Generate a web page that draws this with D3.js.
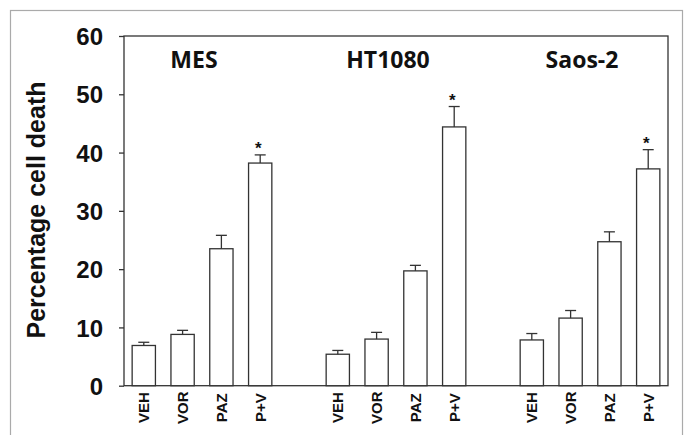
<!DOCTYPE html>
<html>
<head>
<meta charset="utf-8">
<script src="https://cdn.jsdelivr.net/npm/d3@7"></script>
<style>
  body { margin: 0; background: #fff; }
  svg { display: block; }
</style>
</head>
<body>
<div id="canvas"></div>
<script>
// data
const groups = ["MES", "HT1080", "Saos-2"];
const treatments = ["VEH", "VOR", "PAZ", "P+V"];
const mesValues = [6.9, 8.8, 23.5, 38.2];
const mesErrors = [0.55, 0.7, 2.3, 1.4];
const htValues = [5.4, 8.0, 19.7, 44.4];
const htErrors = [0.65, 1.15, 0.95, 3.5];
const saosValues = [7.85, 11.6, 24.7, 37.2];
const saosErrors = [1.1, 1.3, 1.7, 3.3];
const starred = ["P+V"];
const yTicks = [0, 10, 20, 30, 40, 50, 60];

const values = [mesValues, htValues, saosValues];
const errors = [mesErrors, htErrors, saosErrors];

const dims = { width: 686, height: 435 };
const margin = { top: 36, right: 18, bottom: 49.3, left: 124 };
const plotW = dims.width - margin.left - margin.right;
const plotH = dims.height - margin.top - margin.bottom;

const ink = "#333";

// one row per bar
const rows = [];
groups.forEach((g, gi) => {
  treatments.forEach((t, ti) => {
    rows.push({ group: g, treatment: t, key: g + "|" + t, value: values[gi][ti], err: errors[gi][ti] });
  });
});

// band slots, with an empty slot between groups
const slots = [];
groups.forEach((g, gi) => {
  treatments.forEach(t => slots.push(g + "|" + t));
  if (gi < groups.length - 1) slots.push("gap" + gi);
});

const svg = d3
  .select("#canvas")
  .append("svg")
  .attr("width", dims.width)
  .attr("height", dims.height)
  .style("background-color", "#fff");

// outer frame of the figure
svg
  .append("rect")
  .attr("x", 10.5)
  .attr("y", 10.5)
  .attr("width", 672)
  .attr("height", 440)
  .attr("fill", "none")
  .attr("stroke", "#aaa")
  .attr("stroke-width", 1.2);

const graph = svg
  .append("g")
  .attr("transform", `translate(${margin.left}, ${margin.top})`);

const xScale = d3
  .scaleBand()
  .domain(slots)
  .range([0, plotW])
  .paddingInner(0.4)
  .paddingOuter(0.21);

const yScale = d3.scaleLinear().domain([0, 60]).range([plotH, 0]);

// plot box (left axis, top and right borders, baseline)
graph
  .append("rect")
  .attr("width", plotW)
  .attr("height", plotH)
  .attr("fill", "none")
  .attr("stroke", ink)
  .attr("stroke-width", 1.3);

const yAxis = d3
  .axisLeft(yScale)
  .tickValues(yTicks)
  .tickSizeInner(5)
  .tickSizeOuter(0)
  .tickPadding(16)
  .tickFormat(d3.format("d"));

const yAxisGroup = graph.append("g").call(yAxis);
yAxisGroup.select(".domain").remove();
yAxisGroup.selectAll("line").attr("stroke", ink).attr("stroke-width", 1.3);
yAxisGroup
  .selectAll("text")
  .attr("fill", "#111")
  .attr("dy", "0.36em")
  .style("font-family", "'Liberation Sans', Arial, sans-serif")
  .style("font-weight", "bold")
  .style("font-size", "24px");

// bars
graph
  .selectAll("rect.bar")
  .data(rows)
  .enter()
  .append("rect")
  .attr("class", "bar")
  .attr("x", d => xScale(d.key))
  .attr("y", d => yScale(d.value))
  .attr("width", xScale.bandwidth())
  .attr("height", d => plotH - yScale(d.value))
  .attr("fill", "#fff")
  .attr("stroke", ink)
  .attr("stroke-width", 1.3);

// error bars (upper only)
const cap = 5.5;
const errG = graph.append("g").attr("stroke", ink).attr("stroke-width", 1.3);
errG
  .selectAll("line.stem")
  .data(rows)
  .enter()
  .append("line")
  .attr("x1", d => xScale(d.key) + xScale.bandwidth() / 2)
  .attr("x2", d => xScale(d.key) + xScale.bandwidth() / 2)
  .attr("y1", d => yScale(d.value))
  .attr("y2", d => yScale(d.value + d.err));
errG
  .selectAll("line.cap")
  .data(rows)
  .enter()
  .append("line")
  .attr("x1", d => xScale(d.key) + xScale.bandwidth() / 2 - cap)
  .attr("x2", d => xScale(d.key) + xScale.bandwidth() / 2 + cap)
  .attr("y1", d => yScale(d.value + d.err))
  .attr("y2", d => yScale(d.value + d.err));

// significance stars
graph
  .selectAll("text.star")
  .data(rows.filter(d => starred.includes(d.treatment)))
  .enter()
  .append("text")
  .attr("x", d => xScale(d.key) + xScale.bandwidth() / 2 - 2)
  .attr("y", d => yScale(d.value + d.err) - 1)
  .attr("text-anchor", "middle")
  .attr("fill", "#111")
  .style("font-family", "'Liberation Sans', Arial, sans-serif")
  .style("font-weight", "bold")
  .style("font-size", "17px")
  .text("*");

// x labels, rotated
graph
  .selectAll("text.xlab")
  .data(rows)
  .enter()
  .append("text")
  .attr("transform", d => `translate(${xScale(d.key) + xScale.bandwidth() / 2 + 5.5}, ${plotH + 22}) rotate(-90)`)
  .attr("text-anchor", "middle")
  .attr("fill", "#111")
  .style("font-family", "'Liberation Sans', Arial, sans-serif")
  .style("font-weight", "bold")
  .style("font-size", "15px")
  .text(d => d.treatment);

// group titles
graph
  .selectAll("text.group")
  .data(groups)
  .enter()
  .append("text")
  .attr("x", g => {
    const first = xScale(g + "|" + treatments[0]);
    const last = xScale(g + "|" + treatments[treatments.length - 1]) + xScale.bandwidth();
    return (first + last) / 2 - 8;
  })
  .attr("y", 32)
  .attr("text-anchor", "middle")
  .attr("fill", "#111")
  .style("font-family", "'Open Sans', sans-serif")
  .style("font-weight", "bold")
  .style("font-size", "23px")
  .text(g => g);

// y title
svg
  .append("text")
  .attr("transform", `translate(45, 210) rotate(-90)`)
  .attr("text-anchor", "middle")
  .attr("fill", "#111")
  .style("font-family", "'Liberation Sans', Arial, sans-serif")
  .style("font-weight", "bold")
  .style("font-size", "25px")
  .text("Percentage cell death");
</script>
</body>
</html>
